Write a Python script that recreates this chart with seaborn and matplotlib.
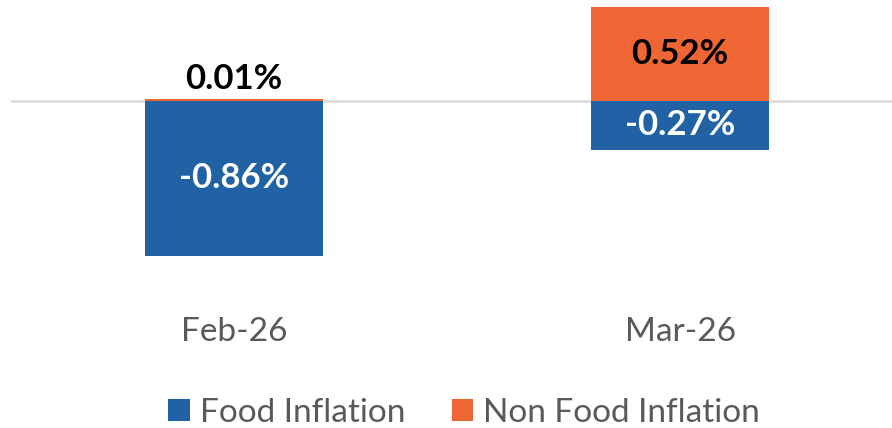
import pandas as pd
import matplotlib.pyplot as plt
import seaborn as sns

months = ["Feb-26", "Mar-26"]
food = [-0.86, -0.27]
non_food = [0.01, 0.52]
series_names = ["Food Inflation", "Non Food Inflation"]

df = pd.DataFrame({
    "Month": months * 2,
    "Series": [series_names[0]] * 2 + [series_names[1]] * 2,
    "Value": food + non_food,
})

sns.set_style("white")
plt.rcParams['font.family'] = ['Lato', 'DejaVu Sans']

fig = plt.figure(figsize=(8.92, 4.28), dpi=100)
ax = fig.add_axes([11 / 892, 1 - 300 / 428, 1 - 11 / 892, 300 / 428])

colors = {"Food Inflation": "#2062A3", "Non Food Inflation": "#EE6633"}
sns.barplot(data=df, x="Month", y="Value", hue="Series", dodge=False,
            palette=colors, saturation=1, width=0.4, linewidth=0, ax=ax, zorder=2)

ax.axhline(0, color="#D9D9D9", lw=1.8, zorder=1)
ax.set_xlim(-0.5, 1.475)
ax.set_ylim(-1.106, 0.561)
sns.despine(ax=ax, left=True, bottom=True, top=True, right=True)
ax.set_yticks([])
ax.set_xlabel("")
ax.set_ylabel("")
ax.tick_params(axis="x", length=0, pad=12, labelsize=24, labelcolor="#595959")

# data labels
food_bars, nf_bars = ax.containers[0], ax.containers[1]
ax.bar_label(food_bars, labels=[f"{v:.2f}%" for v in food], label_type="center",
             color="white", fontsize=25, fontweight="bold")
for bar, v in zip(nf_bars, non_food):
    if v < 0.1:
        ax.annotate(f"{v:.2f}%", (bar.get_x() + bar.get_width() / 2, bar.get_height()),
                    xytext=(0, 3), textcoords="offset points", ha="center", va="bottom",
                    color="black", fontsize=25, fontweight="bold")
    else:
        ax.text(bar.get_x() + bar.get_width() / 2, bar.get_height() / 2, f"{v:.2f}%",
                ha="center", va="center", color="black", fontsize=25, fontweight="bold")

handles, labels = ax.get_legend_handles_labels()
ax.get_legend().remove()
fig.legend(handles, labels, loc="center", bbox_to_anchor=(464 / 892, 1 - 413 / 428),
           ncol=2, frameon=False, fontsize=24, labelcolor="#595959",
           handlelength=0.65, handleheight=0.65, handletextpad=0.3, columnspacing=1.4)

fig.savefig("out.png", dpi=100)
